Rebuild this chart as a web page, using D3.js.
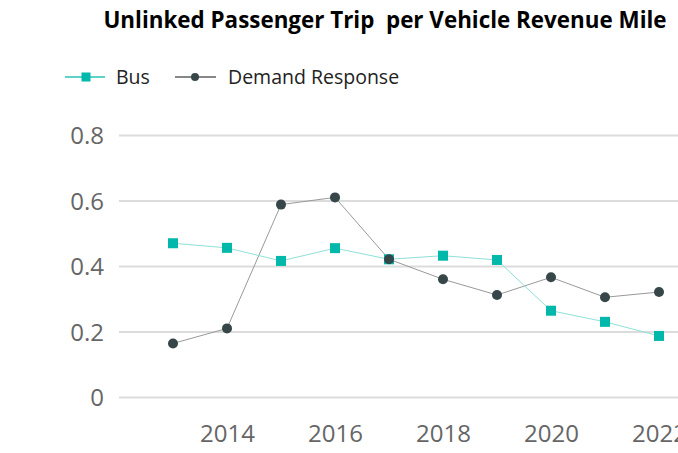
<!DOCTYPE html>
<html>
<head>
<meta charset="utf-8">
<script src="https://cdn.jsdelivr.net/npm/d3@7"></script>
<style>
  body { margin: 0; background: #fff; }
  text { font-family: "Open Sans", "DejaVu Sans", sans-serif; }
</style>
</head>
<body>
<script>
'use strict';

const years = [2013, 2014, 2015, 2016, 2017, 2018, 2019, 2020, 2021, 2022];
const busValues = [0.471, 0.457, 0.417, 0.456, 0.422, 0.433, 0.420, 0.265, 0.231, 0.188];
const demandValues = [0.165, 0.211, 0.589, 0.611, 0.422, 0.361, 0.313, 0.367, 0.306, 0.322];
const yTicks = [0, 0.2, 0.4, 0.6, 0.8];
const xTicks = [2014, 2016, 2018, 2020, 2022];

const width = 678, height = 453;

const svg = d3.select('body').append('svg')
  .attr('width', width)
  .attr('height', height);

const x = d3.scaleLinear().domain([2013, 2022]).range([173, 659]);
const y = d3.scaleLinear().domain([0, 0.8]).range([397.5, 135.5]);

// title (double space kept like the original)
svg.append('text')
  .attr('x', 385)
  .attr('y', 28)
  .attr('text-anchor', 'middle')
  .style('font-size', '22.4px')
  .style('font-weight', 'bold')
  .style('white-space', 'pre')
  .style('fill', '#000')
  .text('Unlinked Passenger Trip  per Vehicle Revenue Mile');

// gridlines + y labels
const yAxis = d3.axisLeft(y).tickValues(yTicks).tickFormat(d3.format('~g')).tickSize(0);
const gy = svg.append('g').attr('transform', 'translate(104,0)').call(yAxis);
gy.select('.domain').remove();
gy.selectAll('text').style('font-size', '24px').style('fill', '#666').attr('x', 0).attr('dy', '0.35em');

svg.append('g').selectAll('line')
  .data(yTicks)
  .enter()
  .append('line')
  .attr('x1', 119).attr('x2', width)
  .attr('y1', d => y(d)).attr('y2', d => y(d))
  .attr('stroke', '#dcdcdc')
  .attr('stroke-width', 2);

// x labels
const xAxis = d3.axisBottom(x).tickValues(xTicks).tickFormat(d3.format('d')).tickSize(0);
const gx = svg.append('g').attr('transform', 'translate(0,442)').call(xAxis);
gx.select('.domain').remove();
gx.selectAll('text').style('font-size', '24px').style('fill', '#666').attr('y', 0).attr('dy', 0);

const line = d3.line().x((d, i) => x(years[i])).y(d => y(d));

// demand response
svg.append('path')
  .datum(demandValues)
  .attr('d', line)
  .attr('fill', 'none')
  .attr('stroke', '#999')
  .attr('stroke-width', 1);

// bus
svg.append('path')
  .datum(busValues)
  .attr('d', line)
  .attr('fill', 'none')
  .attr('stroke', '#8fe0d8')
  .attr('stroke-width', 1);

svg.selectAll('.bus')
  .data(busValues)
  .enter()
  .append('rect')
  .attr('class', 'bus')
  .attr('x', (d, i) => x(years[i]) - 5)
  .attr('y', d => y(d) - 5)
  .attr('width', 10)
  .attr('height', 10)
  .attr('fill', '#01B8AA');

svg.selectAll('.dr')
  .data(demandValues)
  .enter()
  .append('circle')
  .attr('class', 'dr')
  .attr('cx', (d, i) => x(years[i]))
  .attr('cy', d => y(d))
  .attr('r', 5)
  .attr('fill', '#374649');

// legend
const legend = svg.append('g');
legend.append('line').attr('x1', 65).attr('x2', 105).attr('y1', 77).attr('y2', 77)
  .attr('stroke', '#5fd3c9').attr('stroke-width', 2);
legend.append('rect').attr('x', 81.5).attr('y', 72.5).attr('width', 9).attr('height', 9).attr('fill', '#01B8AA');
legend.append('text').attr('x', 116).attr('y', 77).attr('dy', '0.35em')
  .style('font-size', '19.5px').style('fill', '#222').text('Bus');

legend.append('line').attr('x1', 175).attr('x2', 216).attr('y1', 77).attr('y2', 77)
  .attr('stroke', '#888').attr('stroke-width', 2);
legend.append('circle').attr('cx', 195).attr('cy', 77).attr('r', 4).attr('fill', '#374649');
legend.append('text').attr('x', 228).attr('y', 77).attr('dy', '0.35em')
  .style('font-size', '19.5px').style('fill', '#222').text('Demand Response');
</script>
</body>
</html>
